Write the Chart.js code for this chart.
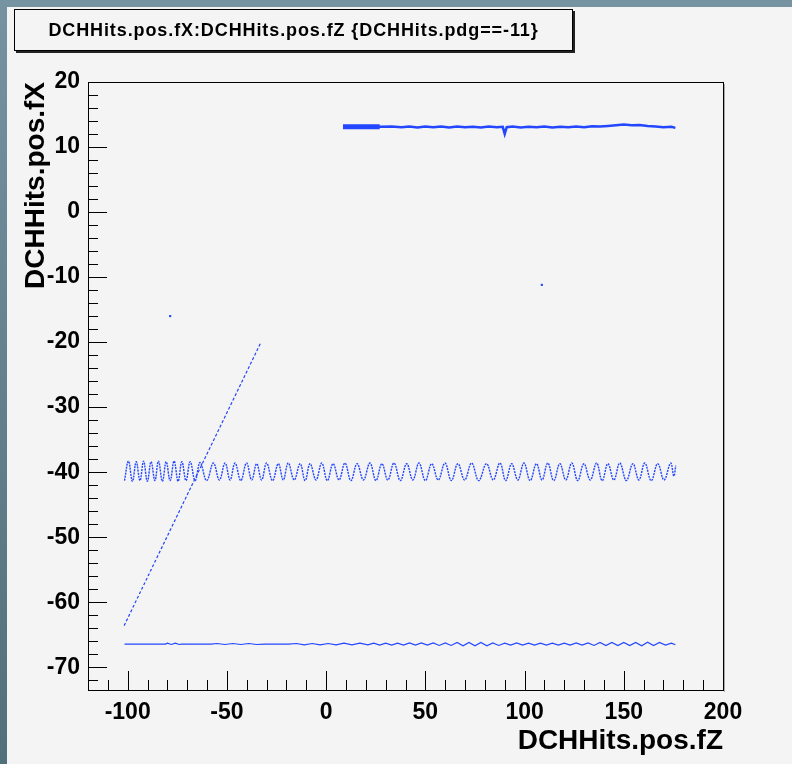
<!DOCTYPE html>
<html>
<head>
<meta charset="utf-8">
<script src="https://cdn.jsdelivr.net/npm/chart.js@4.4.1/dist/chart.umd.min.js"></script>
<style>
  html, body { margin: 0; padding: 0; background: #5f7c86; }
  #wrap { position: relative; width: 792px; height: 764px; overflow: hidden; }
  #plot { position: absolute; left: 0; top: 0; }
  .pave {
    position: absolute; left: 14px; top: 9px; width: 557px; height: 40px;
    border: 1px solid #000; box-shadow: 2px 2px 0 #222; background: #f4f4f4;
    font: bold 18px "Liberation Sans", Arial, sans-serif; letter-spacing: 0.9px;
    line-height: 40px; text-align: center; color: #000; white-space: nowrap;
  }
</style>
</head>
<body>
<div id="wrap">
  <canvas id="plot" width="792" height="764"></canvas>
  <div class="pave" id="pave"></div>
</div>
<script>
// --- data ---
const plotTitle = 'DCHHits.pos.fX:DCHHits.pos.fZ {DCHHits.pdg==-11}';
const xAxisTitle = 'DCHHits.pos.fZ';
const yAxisTitle = 'DCHHits.pos.fX';
const xRange = [-120, 200];
const yRange = [-73.5, 20];
const xTickLabels = [-100, -50, 0, 50, 100, 150, 200];
const yTickLabels = [-70, -60, -50, -40, -30, -20, -10, 0, 10, 20];

// hits near fX = 13, thick start then a fuzzy band
const upperBandThick = [[8.5, 13.1], [27, 13.1]];
const upperBand = [
  [8.5, 13.1], [27, 13.1], [33, 13.15], [38, 13.05], [42, 13.15], [46, 13.0], [50, 13.15], [54, 13.05],
  [58, 13.15], [62, 13.0], [66, 13.15], [70, 13.05], [74, 13.1], [78, 13.0], [82, 13.15], [86, 13.05],
  [89, 13.1], [90, 12.0], [91, 13.05], [94, 13.15], [98, 13.0], [102, 13.1], [106, 13.05], [110, 13.15],
  [114, 13.0], [118, 13.1], [122, 13.05], [126, 13.15], [130, 13.05], [134, 13.2], [138, 13.15], [142, 13.25],
  [146, 13.35], [150, 13.45], [154, 13.35], [158, 13.4], [162, 13.25], [166, 13.15], [170, 13.05], [174, 13.1],
  [176, 12.95]
];

// straight diagonal track
const diagonalTrack = [[-101.8, -63.6], [-32.8, -20.0]];

// oscillating band around fX = -40 (troughs and crests)
const helixBand = [
  [-101.6, -41.3], [-99.6, -38.3], [-97.6, -41.4], [-95.7, -38.4], [-93.8, -41.3], [-92.0, -38.3],
  [-90.1, -41.4], [-88.2, -38.4], [-86.3, -41.3], [-84.5, -38.3], [-82.5, -41.4], [-80.6, -38.4],
  [-78.6, -41.3], [-76.6, -38.3], [-74.6, -41.4], [-72.7, -38.4], [-70.6, -41.3], [-68.5, -38.4],
  [-66.0, -41.3], [-63.5, -38.5], [-60.2, -41.3], [-56.8, -38.6], [-53.8, -41.2], [-50.9, -38.6],
  [-48.4, -41.2], [-45.9, -38.6], [-43.0, -41.3], [-40.1, -38.6], [-37.5, -41.2], [-35.0, -38.7],
  [-32.5, -41.2], [-30.0, -38.6], [-27.0, -41.3], [-24.1, -38.7], [-21.6, -41.2], [-19.1, -38.6],
  [-16.1, -41.2], [-13.1, -38.7], [-10.6, -41.3], [-8.1, -38.7], [-5.1, -41.2], [-2.2, -38.6],
  [0.6, -41.3], [3.5, -38.7], [6.5, -41.2], [9.5, -38.6], [12.5, -41.3], [15.6, -38.7],
  [18.8, -41.2], [22.1, -38.6], [25.1, -41.3], [28.1, -38.7], [31.1, -41.2], [34.2, -38.6],
  [37.4, -41.3], [40.6, -38.7], [43.7, -41.2], [46.8, -38.6], [50.0, -41.3], [53.2, -38.7],
  [56.5, -41.2], [59.9, -38.6], [63.1, -41.3], [66.4, -38.7], [69.8, -41.2], [73.3, -38.6],
  [76.9, -41.3], [80.8, -38.7], [84.2, -41.2], [87.6, -38.6], [90.5, -41.3], [93.5, -38.7],
  [96.6, -41.2], [99.7, -38.6], [102.8, -41.3], [106.0, -38.7], [108.8, -41.2], [111.7, -38.6],
  [114.7, -41.3], [117.8, -38.7], [120.8, -41.2], [123.8, -38.6], [126.8, -41.3], [129.9, -38.7],
  [133.1, -41.2], [136.3, -38.6], [139.1, -41.3], [142.0, -38.7], [145.0, -41.2], [148.0, -38.6],
  [151.3, -41.3], [154.6, -38.7], [157.6, -41.2], [160.6, -38.6], [163.8, -41.3], [167.1, -38.7],
  [170.3, -41.2], [173.6, -38.6], [175.2, -40.6], [176.2, -39.0]
];

// flat band near fX = -66.4 with fine ripples
const lowerBand = [
  [-101.6, -66.45], [-81, -66.45], [-80, -66.3], [-78, -66.5], [-76, -66.3], [-74, -66.5], [-73, -66.45], [-58, -66.45],
  [-55, -66.35], [-51, -66.5], [-47, -66.35], [-43, -66.5], [-39, -66.35], [-35, -66.5], [-31, -66.45], [-27, -66.45],
  [-23, -66.45], [-19, -66.45], [-15, -66.35], [-11, -66.55], [-7, -66.35], [-3, -66.55], [1, -66.35], [5, -66.55],
  [9, -66.3], [13, -66.55], [17, -66.3], [21, -66.55], [24, -66.3], [27, -66.6], [30, -66.3], [33, -66.6],
  [36, -66.3], [39, -66.6], [42, -66.25], [45, -66.6], [48, -66.25], [51, -66.6], [54, -66.25], [57, -66.65],
  [60, -66.25], [63, -66.65], [66, -66.2], [69, -66.7], [72, -66.2], [75, -66.7], [78, -66.2], [81, -66.7],
  [84, -66.25], [87, -66.65], [90, -66.3], [93, -66.6], [96, -66.25], [99, -66.6], [102, -66.3], [105, -66.6],
  [108, -66.3], [111, -66.6], [114, -66.3], [117, -66.6], [120, -66.3], [123, -66.6], [126, -66.25], [129, -66.6],
  [132, -66.25], [135, -66.65], [138, -66.2], [141, -66.65], [144, -66.2], [147, -66.65], [150, -66.2], [153, -66.65],
  [156, -66.2], [159, -66.7], [162, -66.15], [165, -66.65], [168, -66.2], [171, -66.6], [174, -66.3], [176, -66.55]
];

// isolated hits
const strayHits = [[-78.6, -16.0], [108.7, -11.2]];

const hitColor = '#2346ff';
const fontFamily = '"Liberation Sans", Arial, sans-serif';

document.getElementById('pave').textContent = plotTitle;

function toPoints(pairs) {
  return pairs.map(p => ({ x: p[0], y: p[1] }));
}

function lineSet(pairs, width, extra) {
  return Object.assign({
    data: toPoints(pairs),
    showLine: true,
    borderColor: hitColor,
    backgroundColor: hitColor,
    borderWidth: width,
    pointRadius: 0,
    tension: 0
  }, extra || {});
}

// ROOT-like canvas background, frame and inward ticks
const rootFrame = {
  id: 'rootFrame',
  beforeDraw(chart) {
    const ctx = chart.ctx;
    const w = chart.width, h = chart.height;
    ctx.save();
    const g = ctx.createLinearGradient(0, 0, 0, h);
    g.addColorStop(0, '#7593a0');
    g.addColorStop(1, '#51707a');
    ctx.fillStyle = g;
    ctx.fillRect(0, 0, w, h);
    ctx.fillStyle = '#f4f4f4';
    ctx.fillRect(7, 7, w - 7, h - 7);
    ctx.restore();
  },
  afterDatasetsDraw(chart) {
    const { ctx, chartArea: a } = chart;
    const xs = chart.scales.x, ys = chart.scales.y;
    ctx.save();
    ctx.strokeStyle = '#aaa';
    ctx.lineWidth = 1;
    ctx.beginPath();
    ctx.moveTo(Math.round(a.right) + 1.5, a.top + 2);
    ctx.lineTo(Math.round(a.right) + 1.5, a.bottom + 2);
    ctx.stroke();

    ctx.strokeStyle = '#000';
    ctx.strokeRect(Math.round(a.left) + 0.5, Math.round(a.top) + 0.5,
      Math.round(a.right - a.left), Math.round(a.bottom - a.top));

    ctx.beginPath();
    for (let v = -110; v <= 200; v += 10) {
      const px = Math.round(xs.getPixelForValue(v)) + 0.5;
      const len = v % 50 === 0 ? 19 : 10;
      ctx.moveTo(px, a.bottom);
      ctx.lineTo(px, a.bottom - len);
    }
    for (let v = -72; v <= 20; v += 2) {
      const py = Math.round(ys.getPixelForValue(v)) + 0.5;
      const len = v % 10 === 0 ? 19 : 10;
      ctx.moveTo(a.left, py);
      ctx.lineTo(a.left + len, py);
    }
    ctx.stroke();
    ctx.restore();
  }
};

const ctx = document.getElementById('plot').getContext('2d');
new Chart(ctx, {
  type: 'scatter',
  data: {
    datasets: [
      lineSet(upperBandThick, 5),
      lineSet(upperBand, 2.5),
      lineSet(diagonalTrack, 1.2, { borderDash: [3, 2] }),
      lineSet(helixBand, 1.4, { tension: 0.4, borderDash: [2, 1] }),
      lineSet(lowerBand, 1.2),
      {
        data: toPoints(strayHits),
        showLine: false,
        pointStyle: 'rect',
        pointRadius: 1.5,
        borderWidth: 0,
        backgroundColor: hitColor,
        borderColor: hitColor
      }
    ]
  },
  options: {
    responsive: false,
    animation: false,
    events: [],
    layout: { padding: { left: 8, top: 82, right: 69, bottom: 6 } },
    plugins: {
      legend: { display: false },
      tooltip: { enabled: false },
      title: { display: false }
    },
    scales: {
      x: {
        type: 'linear',
        min: xRange[0],
        max: xRange[1],
        grid: { display: false, drawTicks: false },
        border: { display: false },
        afterBuildTicks: s => { s.ticks = xTickLabels.map(v => ({ value: v })); },
        afterFit: s => { s.height = 68; },
        ticks: {
          color: '#000',
          padding: 9,
          maxRotation: 0,
          autoSkip: false,
          font: { family: fontFamily, size: 23, weight: 'bold' },
          callback: v => String(v)
        },
        title: {
          display: true,
          text: xAxisTitle,
          align: 'end',
          color: '#000',
          padding: 0,
          font: { family: fontFamily, size: 28, weight: 'bold' }
        }
      },
      y: {
        type: 'linear',
        min: yRange[0],
        max: yRange[1],
        grid: { display: false, drawTicks: false },
        border: { display: false },
        afterBuildTicks: s => { s.ticks = yTickLabels.map(v => ({ value: v })); },
        afterFit: s => { s.width = 80; },
        ticks: {
          color: '#000',
          padding: 8,
          autoSkip: false,
          font: { family: fontFamily, size: 23, weight: 'bold' },
          callback: v => String(v)
        },
        title: {
          display: true,
          text: yAxisTitle,
          align: 'end',
          color: '#000',
          padding: { top: 11, bottom: 0 },
          font: { family: fontFamily, size: 28, weight: 'bold' }
        }
      }
    }
  },
  plugins: [rootFrame]
});
</script>
</body>
</html>
